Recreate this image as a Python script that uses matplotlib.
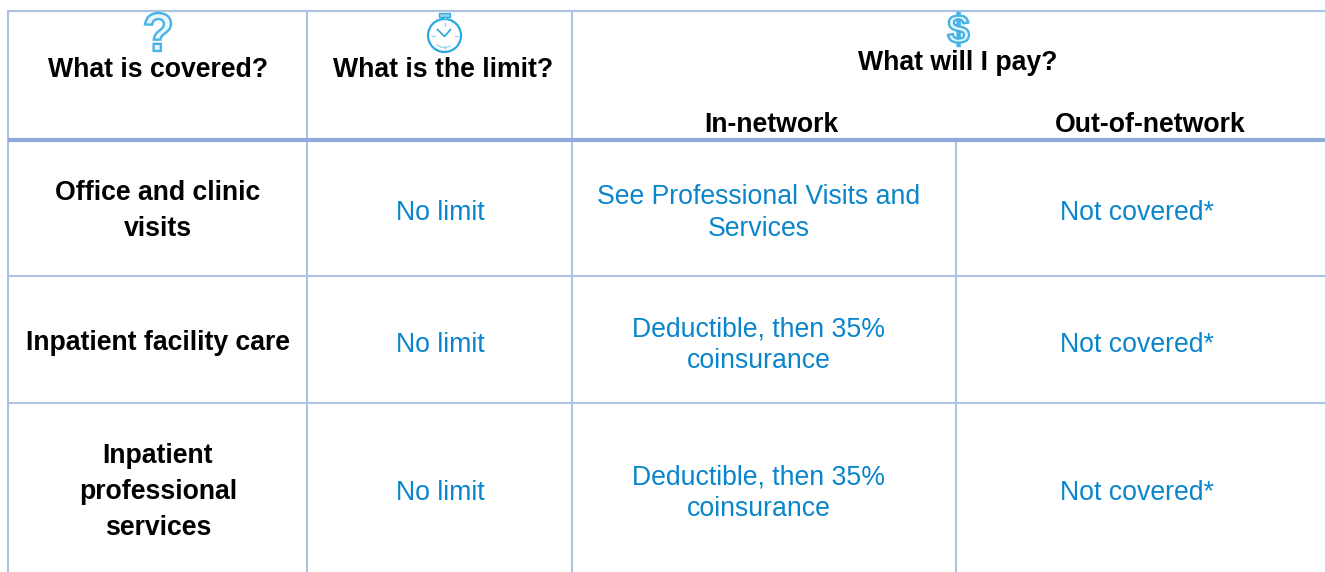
import matplotlib
matplotlib.use("Agg")
import matplotlib.pyplot as plt
from matplotlib.patches import Circle, Rectangle, Arc, PathPatch
from matplotlib.textpath import TextPath
from matplotlib.font_manager import FontProperties
from matplotlib.transforms import Affine2D

W, H = 1325, 572
THIN = "#AEC2E4"
THICK = "#8EAADB"
BLUE = "#0A85CC"
ICON = "#2AA8E0"
PALE = "#8FD3F0"

col_headers = ["What is covered?", "What is the limit?", "What will I pay?"]
sub_headers = ["In-network", "Out-of-network"]
services = ["Office and clinic\nvisits", "Inpatient facility care", "Inpatient\nprofessional\nservices"]
limits = ["No limit", "No limit", "No limit"]
in_network = ["See Professional Visits and\nServices", "Deductible, then 35%\ncoinsurance", "Deductible, then 35%\ncoinsurance"]
out_network = ["Not covered*", "Not covered*", "Not covered*"]
row_y = [213, 345, 493]
service_y = [211, 343, 492]
in_y = [213, 345, 493]

plt.rcParams["font.family"] = ["Liberation Sans", "DejaVu Sans"]
fig = plt.figure(figsize=(W / 100, H / 100), dpi=100, facecolor="white")
ax = fig.add_axes([0, 0, 1, 1])
ax.set_xlim(0, W)
ax.set_ylim(H, 0)
ax.axis("off")

def line(x0, y0, x1, y1, c=THIN, lw=1.5):
    ax.plot([x0, x1], [y0, y1], color=c, lw=lw, solid_capstyle="butt")

line(8, 10.5, W, 10.5, lw=1.6)
line(8, 10, 8, H)
line(307, 10, 307, H)
line(572, 10, 572, H)
line(956, 140, 956, H)
line(8, 140, W, 140, THICK, 3)
line(8, 276, W, 276)
line(8, 403, W, 403)

FS = 19.2
HLS = 1.48
BLS = 1.3
def hdr(x, y, s):
    ax.text(x, y, s, ha="center", va="center", fontsize=FS, fontweight="bold",
            color="black", linespacing=HLS)
def body(x, y, s):
    ax.text(x, y, s, ha="center", va="center", fontsize=FS, color=BLUE, linespacing=BLS)

hdr(158, 70, col_headers[0])
hdr(443, 70, col_headers[1])
hdr(957.5, 63, col_headers[2])
hdr(771, 125, sub_headers[0])
hdr(1150, 125, sub_headers[1])

for i in range(3):
    hdr(158, service_y[i], services[i])
    body(440, row_y[i], limits[i])
    body(759, in_y[i], in_network[i])
    body(1137, row_y[i], out_network[i])

# icons
def glyph(ch, x0, y0, x1, y1, lw):
    tp = TextPath((0, 0), ch, size=40, prop=FontProperties(family="Liberation Sans", weight="bold"))
    b = tp.get_extents()
    tr = (Affine2D().translate(-b.x0, -b.y1)
          .scale((x1 - x0) / b.width, -(y1 - y0) / b.height)
          .translate(x0, y0))
    ax.add_patch(PathPatch(tp.transformed(tr), fc="#E4F4FB", ec=ICON, lw=lw, alpha=0.85, zorder=3))

glyph("?", 145, 13, 171, 51, 1.7)
glyph("$", 948, 13, 969, 46, 1.7)

cx, cy, r = 444.5, 35.5, 16.5
ax.add_patch(Circle((cx, cy), r, fc="white", ec=ICON, lw=1.6, zorder=3))
ax.add_patch(Rectangle((cx - 5.5, 12.5), 11, 4, fc=PALE, ec=ICON, lw=0.9, zorder=3))
ax.add_patch(Rectangle((cx - 2, 16.5), 4, 2.5, fc=PALE, ec=ICON, lw=0.7, zorder=3))
ax.plot([cx - 7, cx, cx + 6], [cy - 6, cy + 1, cy - 6], color=ICON, lw=1.2, zorder=4)
for (a, b, c, d) in [(0, -13, 0, -10), (-13, 0, -10, 0), (10, 0, 13, 0), (0, 10, 0, 13)]:
    ax.plot([cx + a, cx + c], [cy + b, cy + d], color=PALE, lw=0.9, zorder=4)
ax.add_patch(Arc((cx, cy), 24, 24, theta1=60, theta2=130, color=PALE, lw=0.9, zorder=4))

fig.savefig("out.png", dpi=100, facecolor="white")
